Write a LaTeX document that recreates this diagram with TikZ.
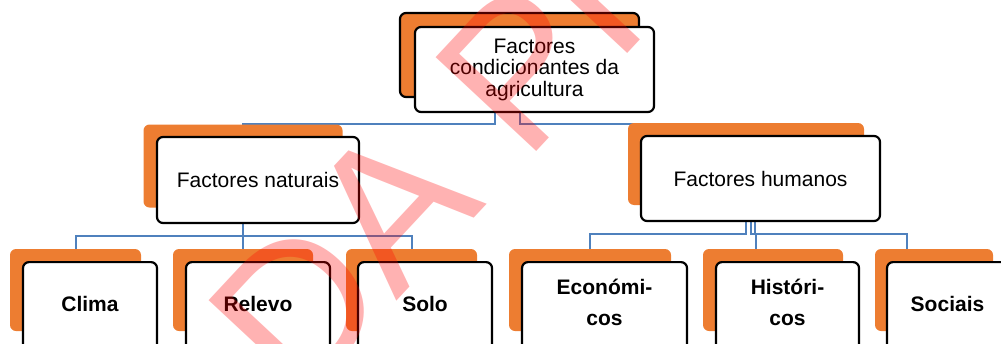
\documentclass[tikz,border=0pt]{standalone}
\usepackage{fontspec}
\setmainfont{Liberation Sans}
\usetikzlibrary{calc}
\pgfdeclarelayer{background}
\pgfsetlayers{background,main}
\definecolor{accorange}{HTML}{ED7D31}
\definecolor{connblue}{HTML}{4F81BD}
\begin{document}
\begin{tikzpicture}[x=1pt,y=-1pt,
  backbox/.style={fill=accorange, rounded corners=6pt, inner sep=0pt},
  frontbox/.style={fill=white, draw=black, line width=2.2pt, rounded corners=6pt, inner sep=0pt, align=center},
  midtext/.style={font=\fontsize{21}{21.5}\selectfont},
  lowbox/.style={frontbox, anchor=north, minimum height=92pt, font=\fontsize{21}{31}\selectfont\bfseries},
  oneline/.style={lowbox, text depth=9.3pt},
  twoline/.style={lowbox, text depth=12.5pt},
  conn/.style={draw=connblue, line width=2pt},
  watermark/.style={text=red, text opacity=0.3, font=\fontsize{200}{200}\selectfont, inner sep=0pt}]
\useasboundingbox (0,0) rectangle (1001,343);

% top level
\node[backbox, draw=black, line width=2.2pt, minimum width=239pt, minimum height=84pt] (rootbg) at (519.5,55) {};
\node[frontbox, midtext, minimum width=239pt, minimum height=85pt] (root) at (534.5,69.5) {Factores\\condicionantes da\\agricultura};

% second level
\node[backbox, minimum width=199pt, minimum height=83pt] (natbg) at (243,166) {};
\node[frontbox, midtext, minimum width=202pt, minimum height=86pt] (nat) at (258,180) {Factores naturais};
\node[backbox, minimum width=236pt, minimum height=82pt] (humbg) at (746,164) {};
\node[frontbox, midtext, minimum width=239pt, minimum height=85pt] (hum) at (760.5,178.5) {Factores humanos};

% third level
\node[backbox, minimum width=131pt, minimum height=82pt] (climabg) at (75.5,290) {};
\node[oneline, minimum width=134pt] (clima) at (90,261) {Clima};
\node[backbox, minimum width=140pt, minimum height=82pt] (relevobg) at (243,290) {};
\node[oneline, minimum width=144pt] (relevo) at (258,261) {Relevo};
\node[backbox, minimum width=131pt, minimum height=82pt] (solobg) at (411.5,290) {};
\node[oneline, minimum width=134pt] (solo) at (425,261) {Solo};
\node[backbox, minimum width=162pt, minimum height=82pt] (econbg) at (590,290) {};
\node[twoline, minimum width=165pt] (econ) at (604.5,261) {Económi-\\cos};
\node[backbox, minimum width=140pt, minimum height=82pt] (histbg) at (773,290) {};
\node[twoline, minimum width=143pt] (hist) at (787.5,261) {Históri-\\cos};
\node[backbox, minimum width=118pt, minimum height=82pt] (socbg) at (934,290) {};
\node[oneline, minimum width=121pt] (soc) at (947.5,261) {Sociais};

% connectors
\begin{pgfonlayer}{background}
\draw[conn] ([xshift=-39.5pt]root.south) -- ++(0,11) -| (natbg.north);
\draw[conn] (rootbg.south |- root.south) -- ++(0,11) -| (humbg.north);
\draw[conn] (natbg.south |- nat.south) -- ++(0,12) -| (climabg.north);
\draw[conn] (natbg.south |- nat.south) -- (relevobg.north);
\draw[conn] (natbg.south |- nat.south) -- ++(0,12) -| (solobg.north);
\draw[conn] (humbg.south |- hum.south) -- ++(0,12) -| (econbg.north);
\draw[conn] ([xshift=5pt]humbg.south |- hum.south) -- ++(0,12) -| ([xshift=-17pt]histbg.north);
\draw[conn] ([xshift=9pt]humbg.south |- hum.south) -- ++(0,12) -| ([xshift=-27pt]socbg.north);
\end{pgfonlayer}

% watermark
\begin{scope}
\clip (0,0) rectangle (1001,343);
\node[watermark, anchor=base west, rotate=47] (wm) at (298,407) {DA PR};
\end{scope}
\end{tikzpicture}
\end{document}
